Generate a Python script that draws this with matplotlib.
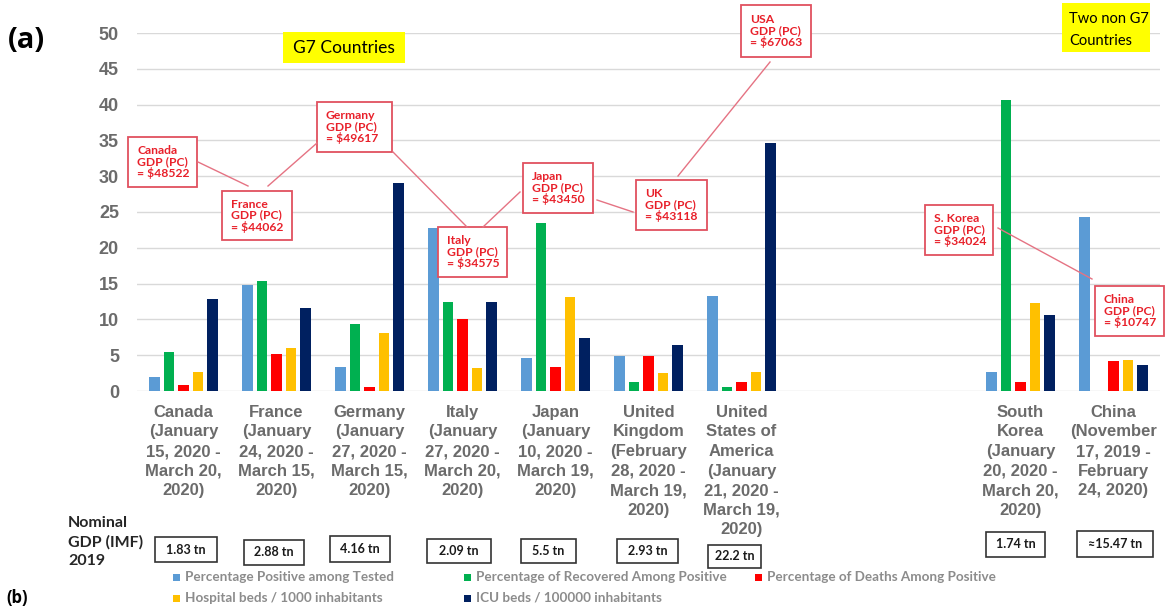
import numpy as np
import matplotlib
matplotlib.use("Agg")
import matplotlib.pyplot as plt
from matplotlib.patches import Rectangle
from matplotlib.lines import Line2D

W, H = 1165, 608

countries = [
    "Canada\n(January\n15, 2020 -\nMarch 20,\n2020)",
    "France\n(January\n24, 2020 -\nMarch 15,\n2020)",
    "Germany\n(January\n27, 2020 -\nMarch 15,\n2020)",
    "Italy\n(January\n27, 2020 -\nMarch 20,\n2020)",
    "Japan\n(January\n10, 2020 -\nMarch 19,\n2020)",
    "United\nKingdom\n(February\n28, 2020 -\nMarch 19,\n2020)",
    "United\nStates of\nAmerica\n(January\n21, 2020 -\nMarch 19,\n2020)",
    "South\nKorea\n(January\n20, 2020 -\nMarch 20,\n2020)",
    "China\n(November\n17, 2019 -\nFebruary\n24, 2020)",
]
positive = [2.0, 14.8, 3.4, 22.7, 4.6, 4.9, 13.2, 2.6, 24.3]
recovered = [5.4, 15.4, 9.4, 12.5, 23.5, 1.3, 0.6, 40.7, 0.0]
deaths = [0.9, 5.2, 0.5, 10.1, 3.4, 4.9, 1.3, 1.2, 4.2]
hospital = [2.6, 6.0, 8.1, 3.2, 13.1, 2.5, 2.6, 12.3, 4.3]
icu = [12.9, 11.6, 29.1, 12.5, 7.4, 6.4, 34.6, 10.6, 3.6]

series_names = [
    "Percentage Positive among Tested",
    "Percentage of Recovered Among Positive",
    "Percentage of Deaths Among Positive",
    "Hospital beds / 1000 inhabitants",
    "ICU beds / 100000 inhabitants",
]
colors = ["#5B9BD5", "#00B050", "#FF0000", "#FFC000", "#002060"]

gdp_nominal = ["1.83 tn", "2.88 tn", "4.16 tn", "2.09 tn", "5.5 tn",
               "2.93 tn", "22.2 tn", "1.74 tn", "\u224815.47 tn"]
gdp_pc = [
    ("Canada", "$48522"), ("France", "$44062"), ("Germany", "$49617"),
    ("Italy", "$34575"), ("Japan", "$43450"), ("UK", "$43118"),
    ("USA", "$67063"), ("S. Korea", "$34024"), ("China", "$10747"),
]

# layout in image pixels (x0, y0, x1, y1), top-left origin
pc_boxes = [(128, 137, 197, 187), (222, 191, 292, 240), (317, 102, 392, 152),
            (438, 227, 507, 277), (523, 163, 593, 213), (636, 180, 707, 230),
            (741, 5, 811, 57), (925, 205, 993, 255), (1095, 286, 1164, 336)]
pc_links = [((198, 162), (248, 186)), ((268, 186), (317, 143)),
            ((393, 152), (467, 227)), ((483, 227), (520, 192)),
            ((597, 200), (633, 212)), ((678, 176), (770, 62)),
            ((998, 228), (1092, 279))]
gdp_boxes = [(155, 537, 217, 562), (244, 540, 304, 565), (330, 536, 390, 562),
             (427, 539, 491, 563), (521, 539, 576, 563), (617, 539, 678, 563),
             (708, 545, 761, 568), (986, 532, 1045, 557), (1077, 531, 1153, 557)]


def fx(px):
    return px / W


def fy(py):
    return 1 - py / H


fig = plt.figure(figsize=(W / 100, H / 100), dpi=100)
ax = fig.add_axes([fx(137), fy(391), (1160 - 137) / W, (391 - 33) / H])

# G7 countries then a gap of two slots before the two non-G7 countries
x = np.arange(len(countries)).astype(float)
x[7:] += 2
width = 0.118
step = 0.156
for i, vals in enumerate([positive, recovered, deaths, hospital, icu]):
    ax.bar(x + (i - 2) * step, vals, width, color=colors[i], zorder=3)

ax.set_xlim(-0.5, 10.5)
ax.set_ylim(0, 50)
ax.set_yticks(np.arange(0, 51, 5))
ax.grid(axis="y", color="#d9d9d9", linewidth=1)
ax.set_axisbelow(True)
for s in ax.spines.values():
    s.set_visible(False)
ax.set_xticks(x)
ax.set_xticklabels(countries, fontsize=12, fontweight="bold", color="#6b6b6b",
                   family="Liberation Sans", linespacing=1.38)
ax.tick_params(axis="x", length=0, pad=10)
ax.tick_params(axis="y", length=0, pad=13, labelsize=13, labelcolor="#6b6b6b")
for t in ax.get_yticklabels():
    t.set_fontweight("bold")
    t.set_family("Liberation Sans")

# panel letters
fig.text(fx(8), fy(41), "(a)", fontsize=21, fontweight="bold", family="Open Sans",
         va="center", ha="left")
fig.text(fx(6), fy(607), "(b)", fontsize=12, fontweight="bold", family="Open Sans",
         va="bottom", ha="left")

# yellow group labels
fig.add_artist(Rectangle((fx(283), fy(63)), 122 / W, 31 / H, facecolor="#FFFF00",
                         edgecolor="none"))
fig.text(fx(344), fy(48), "G7 Countries", fontsize=12.5, family="Lato",
         ha="center", va="center")
fig.add_artist(Rectangle((fx(1062), fy(52)), 88 / W, 49 / H, facecolor="#FFFF00",
                         edgecolor="none"))
fig.text(fx(1069), fy(30), "Two non G7\nCountries", fontsize=10.5, family="Lato",
         ha="left", va="center", linespacing=1.75)

# GDP per capita call-outs
for (a, b) in pc_links:
    fig.add_artist(Line2D([fx(a[0]), fx(b[0])], [fy(a[1]), fy(b[1])],
                          color="#E57383", linewidth=1.0))
for (name, val), (x0, y0, x1, y1) in zip(gdp_pc, pc_boxes):
    fig.add_artist(Rectangle((fx(x0), fy(y1)), (x1 - x0) / W, (y1 - y0) / H,
                             facecolor="white", edgecolor="#E0505F", linewidth=1.3))
    fig.text(fx(x0 + 9), fy((y0 + y1) / 2), "%s\nGDP (PC)\n= %s" % (name, val),
             fontsize=8.7, fontweight="bold", color="#E8202A", family="Lato",
             ha="left", va="center", linespacing=1.0)

# nominal GDP row
fig.text(fx(68), fy(542), "Nominal\nGDP (IMF)\n2019", fontsize=11.5,
         fontweight="bold", family="Lato", color="#262626", ha="left",
         va="center", linespacing=1.4)
for lab, (x0, y0, x1, y1) in zip(gdp_nominal, gdp_boxes):
    fig.add_artist(Rectangle((fx(x0), fy(y1)), (x1 - x0) / W, (y1 - y0) / H,
                             facecolor="white", edgecolor="#333333", linewidth=1.2))
    fig.text(fx((x0 + x1) / 2), fy((y0 + y1) / 2), lab, fontsize=9,
             fontweight="bold", family="Lato", color="#1a1a1a",
             ha="center", va="center")

# legend, laid out in rows like the original
leg_pos = [(173, 577), (464, 577), (755, 577), (173, 598), (464, 598)]
for name, col, (px, py) in zip(series_names, colors, leg_pos):
    fig.add_artist(Rectangle((fx(px), fy(py + 3.5)), 7 / W, 7 / H,
                             facecolor=col, edgecolor="none"))
    fig.text(fx(px + 12), fy(py), name, fontsize=9.7, fontweight="bold",
             family="Lato", color="#8c8c8c", ha="left", va="center")

fig.savefig("out.png", dpi=100)
